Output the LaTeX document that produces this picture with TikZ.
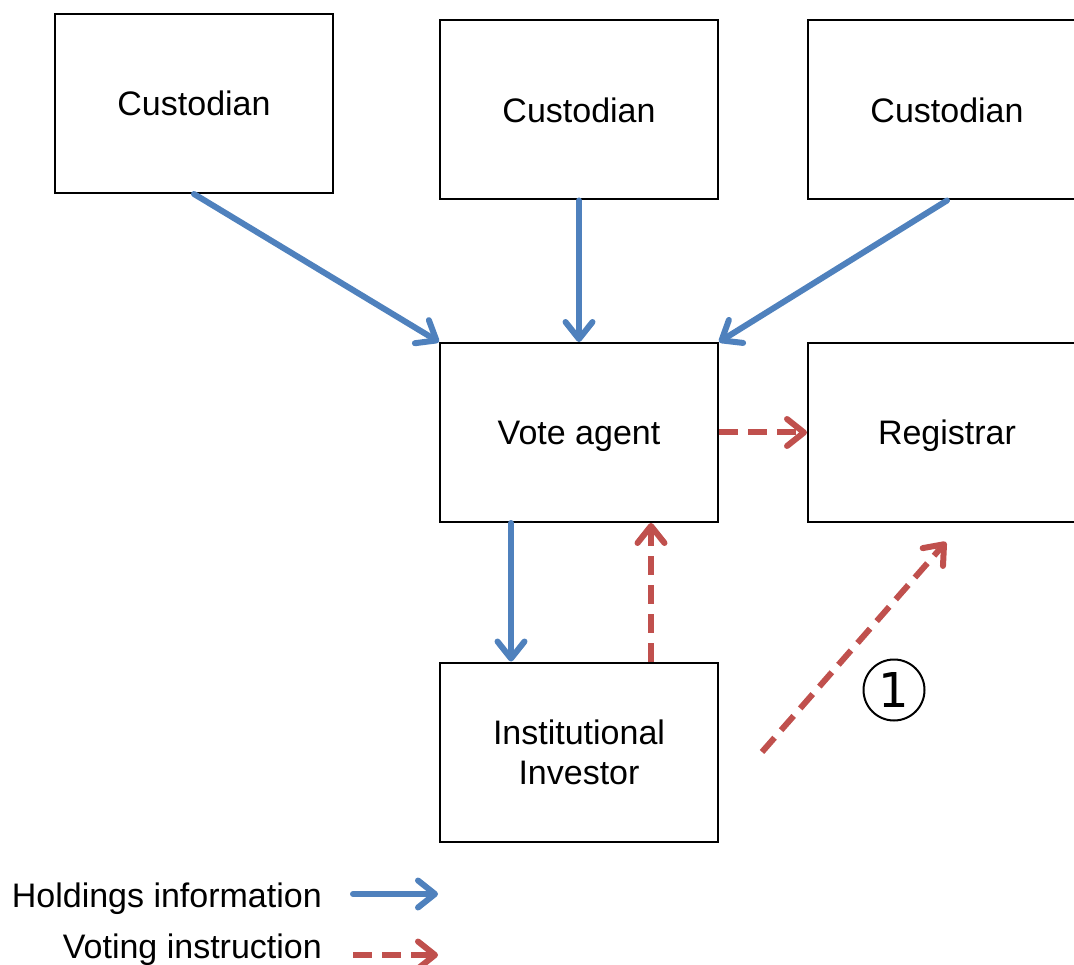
\documentclass[tikz,border=0pt]{standalone}
\usepackage{fontspec}
\setmainfont{Liberation Sans}
\newfontfamily\circfont{DejaVu Sans}
\usetikzlibrary{arrows.meta}
\definecolor{holdblue}{RGB}{79,129,189}
\definecolor{votered}{RGB}{192,80,77}
\begin{document}
\begin{tikzpicture}[x=1pt,y=-1pt,
  box/.style={draw, line width=2pt, minimum width=278pt, minimum height=179pt, inner sep=0pt, align=center, text depth=0pt, font=\fontsize{34}{40}\selectfont},
  tip/.style={-{Straight Barb[round,length=17pt,width=27pt]}},
  hold/.style={draw=holdblue, line width=6pt, line cap=round, tip},
  vote/.style={draw=votered, line width=6pt, dash pattern=on 19pt off 10pt, tip},
  legend/.style={font=\fontsize{34}{40}\selectfont, inner sep=0pt, anchor=base east},
  numcirc/.style={draw, circle, line width=2pt, minimum size=61pt, inner sep=0pt, font=\circfont\fontsize{48}{48}\selectfont}
]
\useasboundingbox (0,0) rectangle (1074,965);
\clip (0,0) rectangle (1074,965);

\node[box] (c1) at (194,103.5) {Custodian};
\node[box] (c2) at (579,110) {Custodian};
\node[box] (c3) at (947,110) {Custodian};
\node[box] (va) at (579,432.5) {Vote agent};
\node[box] (reg) at (947,432.5) {Registrar};
\node[box] (ii) at (579,752) {Institutional\\Investor};

\draw[hold] (c1.south) -- (va.north west);
\draw[hold] (c2.south) -- (va.north);
\draw[hold] (c3.south) -- (va.north east);
\draw[vote] (va.east) -- (reg.west);
\draw[hold] ([xshift=-68pt]va.south) -- ([xshift=-68pt]ii.north);
\draw[vote] ([xshift=72pt]ii.north) -- ([xshift=72pt]va.south);

\coordinate (f1) at (762,752);
\coordinate (f2) at (946,542);
\draw[vote] (f1) -- (f2);
\node[numcirc] (n1) at (894,690) {1};

\node[legend] (lh) at (322,907) {Holdings information};
\node[legend] (lv) at (322,958) {Voting instruction};
\coordinate (lh1) at (353,894);
\coordinate (lh2) at (438,894);
\coordinate (lv1) at (353,955);
\coordinate (lv2) at (438,955);
\draw[hold] (lh1) -- (lh2);
\draw[vote] (lv1) -- (lv2);
\end{tikzpicture}
\end{document}
